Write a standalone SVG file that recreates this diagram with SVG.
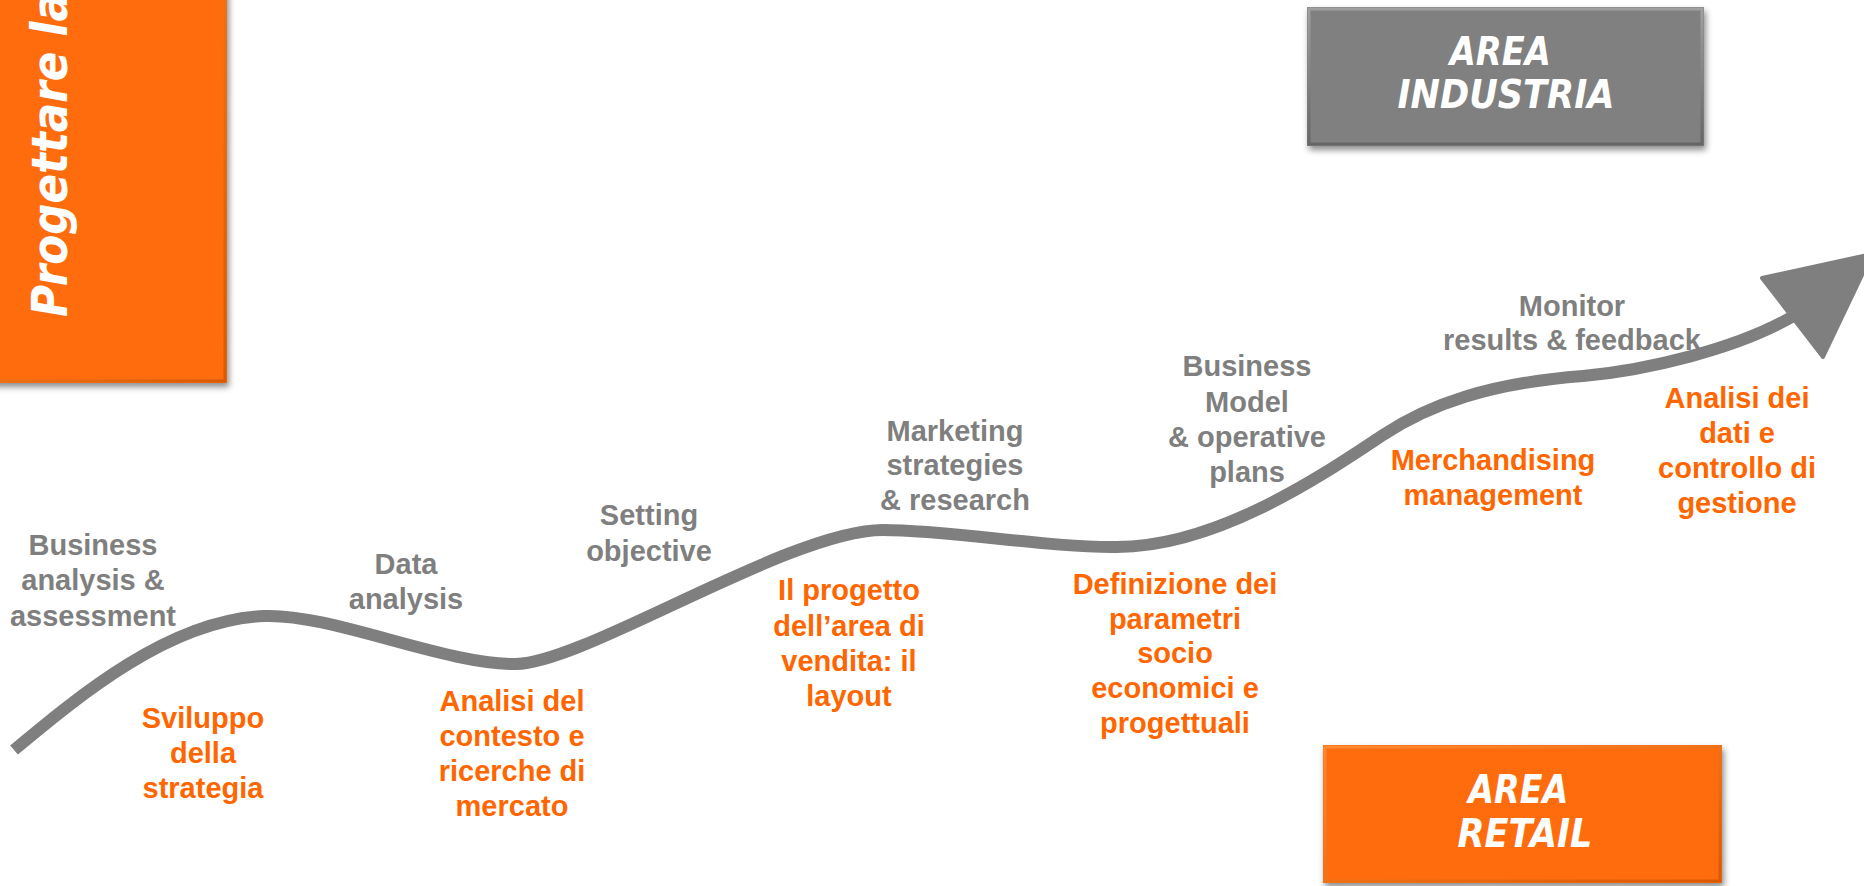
<svg xmlns="http://www.w3.org/2000/svg" width="1864" height="886" viewBox="0 0 1864 886">
  <defs>
    <filter id="shadow" x="-10%" y="-10%" width="125%" height="130%">
      <feDropShadow dx="2" dy="4" stdDeviation="3" flood-color="#000" flood-opacity="0.45"/>
    </filter>
    <linearGradient id="bevelGray" x1="0" y1="0" x2="0" y2="1">
      <stop offset="0" stop-color="#a0a0a0"/>
      <stop offset="1" stop-color="#666666"/>
    </linearGradient>
    <linearGradient id="bevelOrange" x1="0" y1="0" x2="1" y2="1">
      <stop offset="0" stop-color="#ff8a33"/>
      <stop offset="1" stop-color="#d85a00"/>
    </linearGradient>
  </defs>
  <style>
    .lbl { font-family: "Liberation Sans", Arial, sans-serif; font-weight: bold; font-size: 29px; text-anchor: middle; }
    .gray { fill: #7f7f7f; }
    .orange { fill: #ff6600; }
    .title { font-family: "DejaVu Sans", Verdana, sans-serif; font-weight: bold; font-style: italic; fill: #ffffff; }
    .boxO { fill: #ff6c08; }
    .boxG { fill: #808080; }
  </style>

  <rect x="0" y="0" width="1864" height="886" fill="#ffffff"/>

  <!-- vertical title box -->
  <g id="title-box">
    <rect class="boxO" x="-10" y="-10" width="237" height="393" filter="url(#shadow)"/>
    <rect x="-8" y="-8" width="233" height="389" fill="none" stroke="url(#bevelOrange)" stroke-width="3"/>
    <text class="title" font-size="50" textLength="325" lengthAdjust="spacingAndGlyphs" transform="translate(67,317) rotate(-90)">Progettare la</text>
  </g>

  <!-- industry area box -->
  <g id="area-industria">
    <rect class="boxG" x="1307" y="7" width="397" height="139" filter="url(#shadow)"/>
    <rect x="1309" y="9" width="393" height="135" fill="none" stroke="url(#bevelGray)" stroke-width="3"/>
    <text class="title" font-size="39" text-anchor="middle">
      <tspan x="1507" y="65" textLength="101" lengthAdjust="spacingAndGlyphs">AREA</tspan>
      <tspan x="1506" y="108" textLength="217" lengthAdjust="spacingAndGlyphs">INDUSTRIA</tspan>
    </text>
  </g>

  <!-- retail area box -->
  <g id="area-retail">
    <rect class="boxO" x="1323" y="745" width="399" height="138" filter="url(#shadow)"/>
    <rect x="1325" y="747" width="395" height="134" fill="none" stroke="url(#bevelOrange)" stroke-width="3"/>
    <text class="title" font-size="39" text-anchor="middle">
      <tspan x="1525" y="803" textLength="100" lengthAdjust="spacingAndGlyphs">AREA</tspan>
      <tspan x="1525" y="847" textLength="135" lengthAdjust="spacingAndGlyphs">RETAIL</tspan>
    </text>
  </g>

  <!-- growth path -->
  <g id="connectors">
    <path d="M 14 750 C 80 695, 170 620, 264 616 C 330 613, 445 665, 516 664 C 585 663, 790 530, 883 530 C 950 530, 1050 548, 1117 547 C 1220 547, 1330 470, 1383 435 C 1430 404, 1490 383, 1583 376 C 1640 371, 1740 350, 1800 312" fill="none" stroke="#7f7f7f" stroke-width="12"/>
    <polygon points="1762,278 1872,254 1823,357" fill="#7f7f7f" stroke="#7f7f7f" stroke-width="4" stroke-linejoin="round"/>
  </g>

  <!-- steps above the path -->
  <g id="step-business-analysis">
    <text class="lbl gray"><tspan x="93" y="555">Business</tspan><tspan x="93" y="590">analysis &amp;</tspan><tspan x="93" y="626">assessment</tspan></text>
  </g>
  <g id="step-data-analysis">
    <text class="lbl gray"><tspan x="406" y="574">Data</tspan><tspan x="406" y="609">analysis</tspan></text>
  </g>
  <g id="step-setting-objective">
    <text class="lbl gray"><tspan x="649" y="525">Setting</tspan><tspan x="649" y="561">objective</tspan></text>
  </g>
  <g id="step-marketing">
    <text class="lbl gray"><tspan x="955" y="441">Marketing</tspan><tspan x="955" y="475">strategies</tspan><tspan x="955" y="510">&amp; research</tspan></text>
  </g>
  <g id="step-business-model">
    <text class="lbl gray"><tspan x="1247" y="376">Business</tspan><tspan x="1247" y="412">Model</tspan><tspan x="1247" y="447">&amp; operative</tspan><tspan x="1247" y="482">plans</tspan></text>
  </g>
  <g id="step-monitor">
    <text class="lbl gray"><tspan x="1572" y="316">Monitor</tspan><tspan x="1572" y="350">results &amp; feedback</tspan></text>
  </g>

  <!-- steps below the path -->
  <g id="retail-strategia">
    <text class="lbl orange"><tspan x="203" y="728">Sviluppo</tspan><tspan x="203" y="763">della</tspan><tspan x="203" y="798">strategia</tspan></text>
  </g>
  <g id="retail-contesto">
    <text class="lbl orange"><tspan x="512" y="711">Analisi del</tspan><tspan x="512" y="746">contesto e</tspan><tspan x="512" y="781">ricerche di</tspan><tspan x="512" y="816">mercato</tspan></text>
  </g>
  <g id="retail-layout">
    <text class="lbl orange"><tspan x="849" y="600">Il progetto</tspan><tspan x="849" y="636">dell’area di</tspan><tspan x="849" y="671">vendita: il</tspan><tspan x="849" y="706">layout</tspan></text>
  </g>
  <g id="retail-parametri">
    <text class="lbl orange"><tspan x="1175" y="594">Definizione dei</tspan><tspan x="1175" y="629">parametri</tspan><tspan x="1175" y="663">socio</tspan><tspan x="1175" y="698">economici e</tspan><tspan x="1175" y="733">progettuali</tspan></text>
  </g>
  <g id="retail-merchandising">
    <text class="lbl orange"><tspan x="1493" y="470">Merchandising</tspan><tspan x="1493" y="505">management</tspan></text>
  </g>
  <g id="retail-controllo">
    <text class="lbl orange"><tspan x="1737" y="408">Analisi dei</tspan><tspan x="1737" y="443">dati e</tspan><tspan x="1737" y="478">controllo di</tspan><tspan x="1737" y="513">gestione</tspan></text>
  </g>
</svg>
